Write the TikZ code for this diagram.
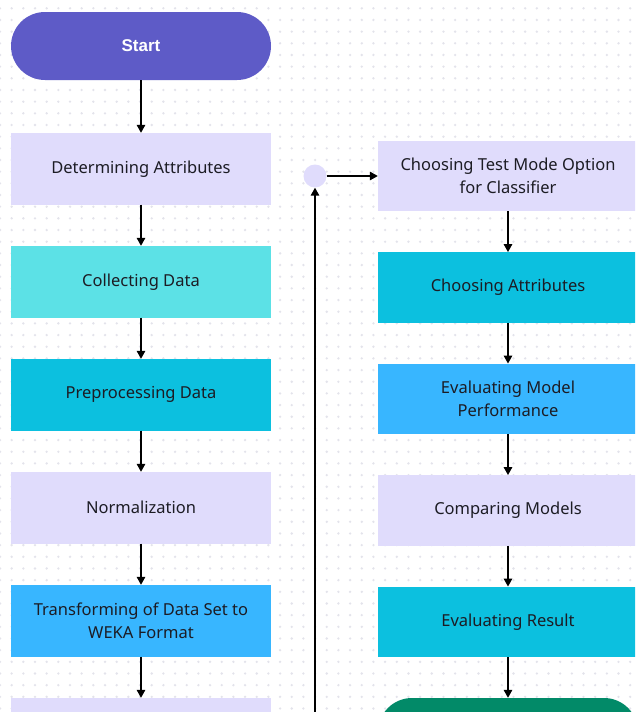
\documentclass[tikz,border=0pt]{standalone}
\usepackage{fontspec}
\setmainfont{Noto Sans}
\newfontfamily\pillfont{Liberation Sans}
\usetikzlibrary{arrows.meta}

\definecolor{startviolet}{HTML}{5E5BC7}
\definecolor{lavender}{HTML}{E0DCFC}
\definecolor{aqua}{HTML}{5CE1E6}
\definecolor{cyanbox}{HTML}{0CC0DF}
\definecolor{skyblue}{HTML}{38B6FF}
\definecolor{endgreen}{HTML}{028A68}
\definecolor{griddot}{HTML}{E3E3EB}
\definecolor{inktext}{HTML}{1C1C24}

\tikzset{
  flowbox/.style={rectangle, minimum width=260pt, minimum height=71pt,
    inner sep=0pt, align=center, text=inktext, font=\fontsize{16.5}{23.5}\selectfont},
  leftbox/.style={flowbox, minimum height=71.5pt},
  rightbox/.style={flowbox, minimum height=70.5pt},
  pill/.style={rectangle, rounded corners=34pt, minimum width=260pt, minimum height=68pt,
    inner sep=0pt, text=white, font=\pillfont\fontsize{17}{20}\selectfont\bfseries},
  flow/.style={line width=1.6pt, draw=black,
    -{Triangle[length=8pt,width=8.5pt]}},
}

\begin{document}
\begin{tikzpicture}[x=1pt,y=-1pt]
  \useasboundingbox (0,0) rectangle (635,712);
  \clip (0,0) rectangle (635,712);
  \fill[white] (0,0) rectangle (635,712);

  % dotted canvas grid
  \foreach \i in {0,...,55} {
    \foreach \j in {0,...,61} {
      \fill[griddot] ({\i*11.67},{8.3+\j*11.67}) circle (1.3pt);
    }
  }

  % left column
  \node[pill, fill=startviolet] (start) at (141,46) {Start};
  \node[leftbox, fill=lavender]  (attr)  at (141,168.75) {Determining Attributes};
  \node[leftbox, fill=aqua]      (coll)  at (141,281.75) {Collecting Data};
  \node[leftbox, fill=cyanbox]   (prep)  at (141,394.75) {Preprocessing Data};
  \node[leftbox, fill=lavender]  (norm)  at (141,507.75) {Normalization};
  \node[leftbox, fill=skyblue]   (weka)  at (141,620.75) {Transforming of Data Set to\\WEKA Format};
  \node[leftbox, fill=lavender]  (next)  at (141,733.75) {};

  % right column
  \node[rightbox, fill=lavender] (mode)  at (508,176)   {Choosing Test Mode Option\\for Classifier};
  \node[rightbox, fill=cyanbox]  (chat)  at (508,287.5) {Choosing Attributes};
  \node[rightbox, fill=skyblue]  (perf)  at (508,399)   {Evaluating Model\\Performance};
  \node[rightbox, fill=lavender] (comp)  at (508,510.5) {Comparing Models};
  \node[rightbox, fill=cyanbox]  (res)   at (508,622)   {Evaluating Result};
  \node[pill, fill=endgreen] (finish) at (508,732) {};

  % junction feeding the right column
  \node[circle, fill=lavender, minimum size=23pt, inner sep=0pt] (join) at (315,176) {};
  \coordinate (loopfoot) at (315,720);

  % connectors
  \draw[flow] (start) -- (attr);
  \draw[flow] (attr) -- (coll);
  \draw[flow] (coll) -- (prep);
  \draw[flow] (prep) -- (norm);
  \draw[flow] (norm) -- (weka);
  \draw[flow] (weka) -- (next);

  \draw[flow] (loopfoot) -- (join);
  \draw[flow] (join) -- (mode);
  \draw[flow] (mode) -- (chat);
  \draw[flow] (chat) -- (perf);
  \draw[flow] (perf) -- (comp);
  \draw[flow] (comp) -- (res);
  \draw[flow] (res) -- (finish);
\end{tikzpicture}
\end{document}
